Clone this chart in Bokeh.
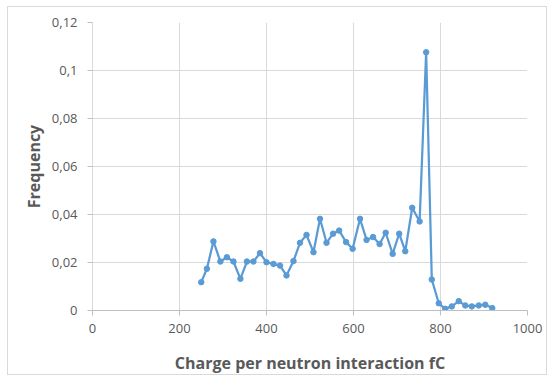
from bokeh.plotting import figure
from bokeh.models import Range1d, FixedTicker, CustomJSTickFormatter
from bokeh.embed import file_html
from bokeh.resources import INLINE

charge = [250, 263, 278, 294, 309, 324, 340, 355, 370, 385, 400, 416, 431, 446,
          462, 477, 492, 508, 523, 538, 553, 567, 583, 598, 615, 630, 645, 660,
          674, 690, 705, 719, 735, 752, 767, 780, 796, 811, 826, 842, 857, 872,
          888, 903, 919]
frequency = [0.0118, 0.0174, 0.0288, 0.0204, 0.0222, 0.0204, 0.0132, 0.0204,
             0.0204, 0.0239, 0.0201, 0.0194, 0.0187, 0.0146, 0.0206, 0.0282,
             0.0315, 0.0243, 0.0382, 0.0282, 0.0320, 0.0333, 0.0285, 0.0257,
             0.0382, 0.0294, 0.0306, 0.0277, 0.0324, 0.0236, 0.0320, 0.0247,
             0.0428, 0.0371, 0.1076, 0.0129, 0.0030, 0.0007, 0.0017, 0.0039,
             0.0021, 0.0017, 0.0021, 0.0024, 0.0010]
x_ticks = [0, 200, 400, 600, 800, 1000]
y_ticks = [0, 0.02, 0.04, 0.06, 0.08, 0.10, 0.12]

FONT = "Open Sans"
GRAY = "#595959"
GRID = "#d9d9d9"
BLUE = "#5b9bd5"

p = figure(width=540, height=369, output_backend="svg", toolbar_location=None,
           x_range=Range1d(0, 1000), y_range=Range1d(0, 0.12),
           min_border_left=84, min_border_right=21, min_border_top=15,
           min_border_bottom=66)
p.styles = {"border": "1px solid #d9d9d9", "margin-left": "7px", "margin-top": "6px"}
p.outline_line_color = None
p.background_fill_color = "white"
p.border_fill_color = "white"

p.line(charge, frequency, line_color=BLUE, line_width=2.25)
p.scatter(charge, frequency, size=5.5, fill_color=BLUE, line_color=BLUE)

p.xaxis.ticker = FixedTicker(ticks=x_ticks)
p.yaxis.ticker = FixedTicker(ticks=y_ticks)
p.yaxis.formatter = CustomJSTickFormatter(
    code="return Number(tick.toFixed(4)).toString().replace('.', ',');")

for ax in (p.xaxis, p.yaxis):
    ax.major_label_text_font = FONT
    ax.major_label_text_font_size = "13px"
    ax.major_label_text_color = GRAY
    ax.axis_label_text_font = FONT
    ax.axis_label_text_font_size = "16px"
    ax.axis_label_text_font_style = "bold"
    ax.axis_label_text_color = GRAY
    ax.minor_tick_line_color = None
    ax.major_tick_in = 0
    ax.major_tick_out = 5
    ax.major_tick_line_color = "#bfbfbf"

p.xaxis.axis_line_color = "#bfbfbf"
p.yaxis.axis_line_color = GRID
p.xaxis.axis_label = "Charge per neutron interaction fC"
p.yaxis.axis_label = "Frequency"
p.xaxis.major_label_standoff = 8
p.yaxis.major_label_standoff = 10
p.xaxis.axis_label_standoff = 16
p.yaxis.axis_label_standoff = 4

p.xgrid.grid_line_color = GRID
p.ygrid.grid_line_color = GRID

open("out.html", "w").write(file_html(p, INLINE))
